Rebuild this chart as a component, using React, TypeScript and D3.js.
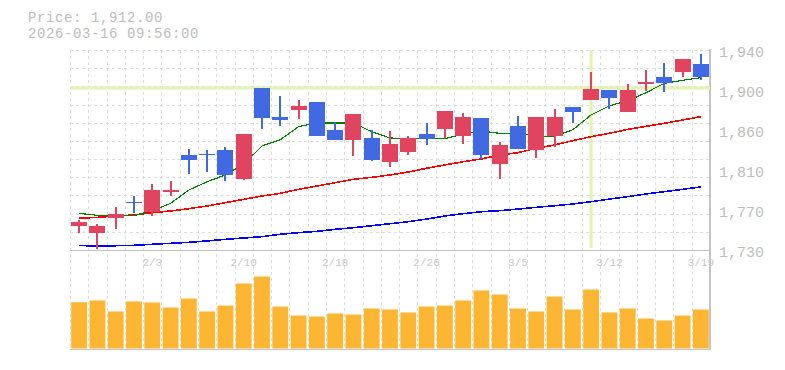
import React, { useEffect, useRef } from "react";
import * as d3 from "d3";

const dates = ["1/28", "1/29", "1/30", "2/2", "2/3", "2/4", "2/5", "2/6", "2/9", "2/10", "2/12", "2/13", "2/16", "2/17", "2/18", "2/19", "2/20", "2/24", "2/25", "2/26", "2/27", "3/2", "3/3", "3/4", "3/5", "3/6", "3/9", "3/10", "3/11", "3/12", "3/13", "3/16", "3/17", "3/18", "3/19"];
const opens = [1755, 1748, 1764, 1780.5, 1770, 1791, 1830, 1831, 1835, 1805, 1900, 1870, 1877, 1885, 1856, 1845, 1848, 1822, 1833, 1852, 1857, 1850, 1869, 1820, 1860, 1835, 1850, 1880, 1887, 1898, 1875, 1904, 1912, 1917, 1925];
const highs = [1762, 1757, 1775, 1787, 1799, 1802, 1836, 1835, 1838, 1852, 1900, 1892, 1888, 1885, 1864, 1873, 1856, 1855, 1850, 1863, 1876, 1874, 1869, 1843, 1871, 1870, 1878, 1880, 1917, 1898, 1904, 1919, 1926, 1931, 1936];
const lows = [1748, 1731, 1752, 1769, 1766, 1787, 1810, 1812, 1802, 1803, 1857, 1860, 1868, 1850, 1846, 1829, 1823, 1817, 1830, 1840, 1848, 1841, 1826, 1805, 1836, 1827, 1838, 1863, 1887, 1878, 1875, 1897, 1896, 1912, 1908];
const closes = [1759, 1755, 1768, 1780, 1793, 1793, 1824, 1830, 1809, 1852, 1869, 1866, 1881, 1850, 1846, 1873, 1824, 1841, 1848, 1847, 1876, 1870, 1830, 1840, 1836, 1870, 1870, 1875, 1899, 1890, 1898, 1906, 1905, 1931, 1912];
// volume in thousands of shares
const volumes = [468, 485, 374, 475, 465, 414, 505, 374, 434, 657, 727, 424, 333, 323, 354, 343, 404, 394, 364, 424, 434, 485, 586, 545, 404, 374, 525, 394, 596, 364, 404, 303, 283, 333, 394];
const ma5 = [1768.5, 1766.4, 1766.4, 1766, 1771.3, 1779, 1793, 1801.7, 1808.8, 1820.3, 1839.2, 1845.8, 1859.5, 1863.4, 1863.4, 1863.4, 1854.2, 1847.6, 1846.9, 1846.9, 1846.9, 1851.8, 1855, 1852.5, 1852.5, 1849.4, 1849.4, 1856.3, 1871.8, 1881.5, 1886.5, 1895.2, 1905, 1908.2, 1910.9];
const ma25 = [1763.3, 1764.3, 1765.7, 1766.8, 1769.2, 1771, 1773.4, 1776.2, 1779.7, 1783.2, 1786.7, 1789.5, 1793.7, 1797.2, 1800.7, 1804.2, 1806.3, 1808.8, 1811.9, 1815.8, 1819.3, 1822.7, 1825.6, 1829.8, 1832.2, 1836.8, 1840.3, 1844.8, 1849, 1852.5, 1856.7, 1859.9, 1863, 1866.5, 1870];
const ma75 = [1734.9, 1733.9, 1734.5, 1734.9, 1736, 1737, 1738.1, 1739.5, 1741.2, 1742.6, 1744, 1746.5, 1748.2, 1749.6, 1751.7, 1753.4, 1755.5, 1757.6, 1759.7, 1762.5, 1765.7, 1768.1, 1770.2, 1771.3, 1773, 1774.8, 1776.5, 1778.3, 1780.7, 1783.5, 1786, 1788.8, 1791.2, 1793.7, 1796.2];

const priceMin = 1730;
const priceMax = 1940;
const priceTickCount = 6;
const cursorIndex = 28;
const cursorPrice = 1900;
const headerPrice = "Price: 1,912.00";
const headerTime = "2026-03-16 09:56:00";

const W = 785;
const H = 370;

export default function App() {
  const ref = useRef<SVGSVGElement>(null);

  useEffect(() => {
    const svg = d3.select(ref.current);
    svg.selectAll("*").remove();

    const left = 70, right = 710, top = 50, priceBottom = 250, volBottom = 349.5;
    const mono = "'Liberation Mono', 'Courier New', monospace";

    const x = d3.scaleBand<number>()
      .domain(d3.range(dates.length))
      .range([left, right])
      .paddingInner(0.13)
      .paddingOuter(0.065);
    const step = x.step();
    const cx = (i: number) => (x(i) as number) + x.bandwidth() / 2;

    const y = d3.scaleLinear().domain([priceMin, priceMax]).range([priceBottom, top]);
    const yVol = d3.scaleLinear().domain([0, 1000]).range([348.5, 249.5]);

    const grid = svg.append("g")
      .attr("stroke", "#dcdcdc")
      .attr("stroke-dasharray", "3,3")
      .attr("shape-rendering", "crispEdges");

    // vertical grid at candle boundaries
    d3.range(dates.length).forEach((k) => {
      const gx = Math.round(left + k * step) + 0.5;
      grid.append("line").attr("x1", gx).attr("x2", gx).attr("y1", top).attr("y2", volBottom);
    });
    // horizontal grid in price panel
    d3.range(11).forEach((k) => {
      const gy = Math.round(top + (k * (priceBottom - top)) / 11) + 0.5;
      grid.append("line").attr("x1", left).attr("x2", right).attr("y1", gy).attr("y2", gy);
    });

    // frame
    const frame = svg.append("g").attr("stroke", "#c4c4c4").attr("stroke-width", 1.5).attr("shape-rendering", "crispEdges");
    frame.append("line").attr("x1", left).attr("x2", right).attr("y1", priceBottom + 0.5).attr("y2", priceBottom + 0.5);
    frame.append("line").attr("x1", left).attr("x2", right).attr("y1", volBottom).attr("y2", volBottom);
    frame.append("line").attr("x1", right).attr("x2", right).attr("y1", top - 1).attr("y2", volBottom);

    // cursor crosshair
    const cross = svg.append("g").attr("stroke", "#e4f3b2").attr("stroke-width", 3);
    cross.append("line").attr("x1", cx(cursorIndex)).attr("x2", cx(cursorIndex)).attr("y1", top).attr("y2", priceBottom - 2);
    cross.append("line").attr("x1", left).attr("x2", right).attr("y1", y(cursorPrice)).attr("y2", y(cursorPrice));

    // volume bars
    svg.append("g")
      .selectAll("rect")
      .data(volumes)
      .enter()
      .append("rect")
      .attr("x", (d, i) => x(i) as number)
      .attr("width", x.bandwidth())
      .attr("y", (d) => yVol(d))
      .attr("height", (d) => yVol(0) - yVol(d))
      .attr("fill", "#fdb633");

    // moving averages
    const mkLine = d3.line<number>().x((d, i) => cx(i)).y((d) => y(d));
    const maSeries = [
      { data: ma75, color: "#0000ff", width: 1.6 },
      { data: ma25, color: "#ff0000", width: 1.6 },
      { data: ma5, color: "#008000", width: 1.2 },
    ];
    maSeries.forEach((s) => {
      svg.append("path")
        .attr("d", mkLine(s.data))
        .attr("fill", "none")
        .attr("stroke", s.color)
        .attr("stroke-width", s.width)
        .attr("shape-rendering", "crispEdges");
    });

    // candles
    const candles = svg.append("g").attr("shape-rendering", "crispEdges");
    dates.forEach((d, i) => {
      const up = closes[i] >= opens[i];
      const color = up ? "#e1445f" : "#4169e1";
      const bodyTop = y(Math.max(opens[i], closes[i]));
      const bodyBot = y(Math.min(opens[i], closes[i]));
      candles.append("line")
        .attr("x1", cx(i)).attr("x2", cx(i))
        .attr("y1", y(highs[i])).attr("y2", y(lows[i]))
        .attr("stroke", color).attr("stroke-width", 2);
      candles.append("rect")
        .attr("x", x(i) as number)
        .attr("width", x.bandwidth())
        .attr("y", bodyTop)
        .attr("height", Math.max(1.5, bodyBot - bodyTop))
        .attr("fill", color);
    });

    // price axis labels
    const tickVals = d3.range(priceTickCount).map((k) => priceMin + (k * (priceMax - priceMin)) / (priceTickCount - 1));
    svg.append("g")
      .selectAll("text")
      .data(tickVals)
      .enter()
      .append("text")
      .attr("x", 719)
      .attr("y", (d) => y(d) + 7.3)
      .attr("fill", "#bdbdbd")
      .style("font-family", mono)
      .style("font-size", "15px")
      .text((d) => d3.format(",")(Math.round(d / 10) * 10));

    // date labels every 5 sessions
    svg.append("g")
      .selectAll("text")
      .data(dates.map((d, i) => ({ d, i })).filter((o) => o.i % 5 === 4))
      .enter()
      .append("text")
      .attr("x", (o) => cx(o.i))
      .attr("y", 266)
      .attr("text-anchor", "middle")
      .attr("fill", "#c8c8c8")
      .style("font-family", mono)
      .style("font-size", "11px")
      .text((o) => o.d);

    // header
    svg.append("text").attr("x", 28).attr("y", 22).attr("fill", "#bdbdbd")
      .style("font-family", mono).style("font-size", "14px").style("letter-spacing", "0.6px").text(headerPrice);
    svg.append("text").attr("x", 28).attr("y", 38).attr("fill", "#bdbdbd")
      .style("font-family", mono).style("font-size", "14px").style("letter-spacing", "0.6px").text(headerTime);
  }, []);

  return (
    <div style={{ position: "absolute", left: 0, top: 0, width: W, height: H, background: "#fff" }}>
      <svg ref={ref} width={W} height={H} style={{ display: "block" }} />
    </div>
  );
}
